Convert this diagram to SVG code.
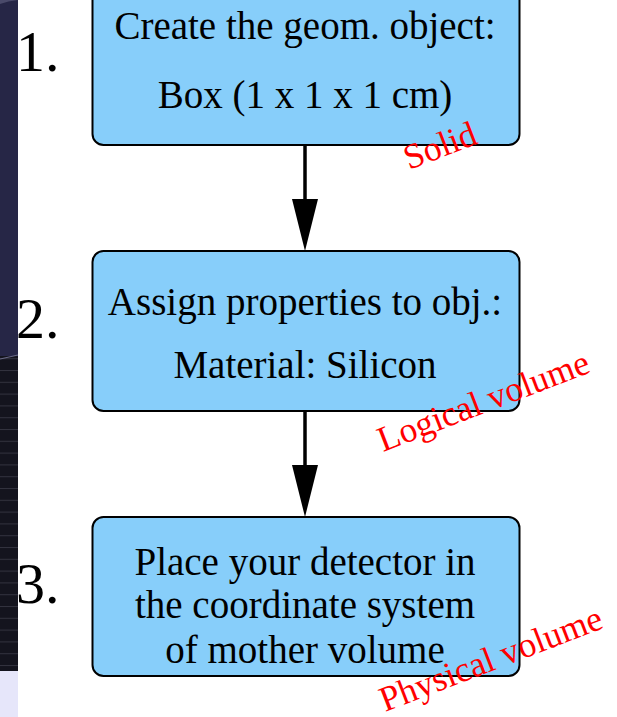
<svg xmlns="http://www.w3.org/2000/svg" width="617" height="717" viewBox="0 0 617 717">
  <defs>
    <style>
      .box { fill: #87cefa; stroke: #000; stroke-width: 2; }
      .txt { font-family: "Liberation Serif", "Times New Roman", serif; font-size: 39px; fill: #000; text-anchor: middle; }
      .num { font-family: "Liberation Serif", "Times New Roman", serif; font-size: 58px; fill: #000; }
      .lbl { font-family: "Liberation Serif", "Times New Roman", serif; font-size: 35.5px; fill: #ff0000; }
      .edge { stroke: #000; stroke-width: 3.5; fill: none; }
    </style>
    <pattern id="stripes" x="0" y="370" width="18" height="11.8" patternUnits="userSpaceOnUse">
      <rect x="0" y="0" width="18" height="11.8" fill="#14141e"/>
      <rect x="0" y="0" width="18" height="1" fill="#32323e"/>
    </pattern>
  </defs>

  <rect x="0" y="0" width="617" height="717" fill="#ffffff"/>

  <g id="background-strip">
    <rect x="0" y="0" width="18" height="360" fill="#262646"/>
    <path d="M0,4 Q8,1 18,0 L0,0 Z" fill="#4a4a6a"/>
    <rect x="0" y="356" width="18" height="316" fill="url(#stripes)"/>
    <path d="M0,359 L18,355" stroke="#6a6a88" stroke-width="1.2"/>
    <rect x="0" y="671" width="18" height="46" fill="#e6e6fa"/>
  </g>

  <g id="connectors">
    <line class="edge" x1="305" y1="145" x2="305" y2="200"/>
    <path d="M292,199 L318,199 L305,251 Z" fill="#000"/>
    <line class="edge" x1="305" y1="411" x2="305" y2="466"/>
    <path d="M292,465 L318,465 L305,517 Z" fill="#000"/>
  </g>

  <g id="node-1">
    <rect class="box" x="92.5" y="-20" width="427" height="165" rx="11" ry="11"/>
    <text class="txt" x="305" y="39">Create the geom. object:</text>
    <text class="txt" x="305" y="108">Box (1 x 1 x 1 cm)</text>
  </g>

  <g id="node-2">
    <rect class="box" x="92.5" y="251" width="427" height="160" rx="11" ry="11"/>
    <text class="txt" x="305" y="315">Assign properties to obj.:</text>
    <text class="txt" x="305" y="378">Material: Silicon</text>
  </g>

  <g id="node-3">
    <rect class="box" x="92.5" y="517" width="427" height="159" rx="11" ry="11"/>
    <text class="txt" x="305" y="575">Place your detector in</text>
    <text class="txt" x="305" y="618">the coordinate system</text>
    <text class="txt" x="305" y="663">of mother volume</text>
  </g>

  <g id="step-numbers">
    <text class="num" x="16" y="71">1.</text>
    <text class="num" x="16" y="338">2.</text>
    <text class="num" x="16" y="603">3.</text>
  </g>

  <g id="labels">
    <text class="lbl" transform="translate(409,170) rotate(-21)">Solid</text>
    <text class="lbl" transform="translate(383,452) rotate(-21)">Logical volume</text>
    <text class="lbl" transform="translate(385,712) rotate(-21)">Physical volume</text>
  </g>
</svg>
